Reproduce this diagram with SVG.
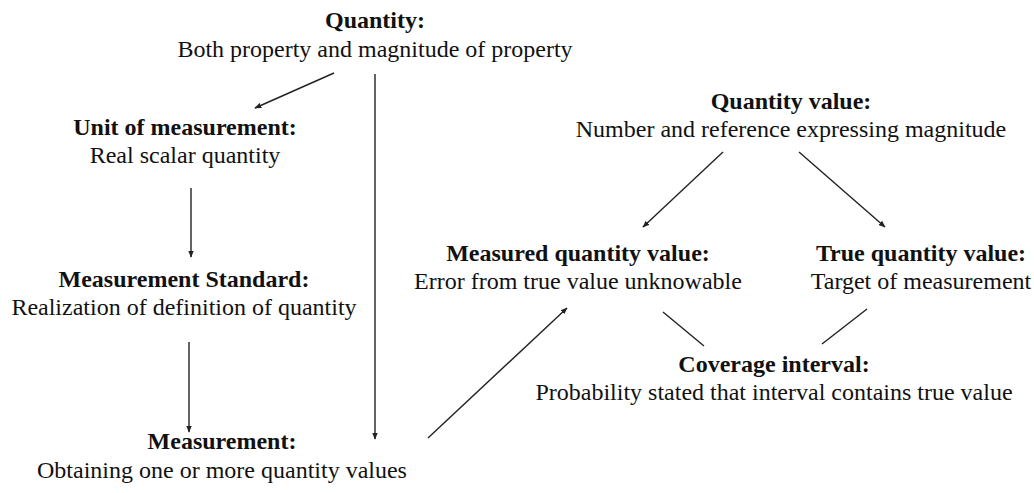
<svg xmlns="http://www.w3.org/2000/svg" width="1034" height="493" viewBox="0 0 1034 493">
  <style>
    text { font-family: "Liberation Serif", "DejaVu Serif", serif; font-size: 24px; fill: #111; text-anchor: middle; }
    .t { font-weight: bold; }
    .c { stroke: #222; stroke-width: 1.4; fill: none; }
  </style>
  <defs>
    <marker id="ah" viewBox="0 0 10 10" refX="9" refY="5" markerWidth="7" markerHeight="7" markerUnits="userSpaceOnUse" orient="auto">
      <path d="M0,1 L10,5 L0,9 Z" fill="#222"/>
    </marker>
  </defs>
  <rect width="1034" height="493" fill="#fff"/>

  <g id="quantity">
    <text class="t" x="375" y="28">Quantity:</text>
    <text x="375" y="57">Both property and magnitude of property</text>
  </g>
  <g id="unit">
    <text class="t" x="185" y="135">Unit of measurement:</text>
    <text x="185" y="163">Real scalar quantity</text>
  </g>
  <g id="standard">
    <text class="t" x="184" y="287">Measurement Standard:</text>
    <text x="184" y="315">Realization of definition of quantity</text>
  </g>
  <g id="measurement">
    <text class="t" x="222" y="449">Measurement:</text>
    <text x="222" y="478">Obtaining one or more quantity values</text>
  </g>
  <g id="quantity-value">
    <text class="t" x="791" y="109">Quantity value:</text>
    <text x="791" y="137">Number and reference expressing magnitude</text>
  </g>
  <g id="measured-value">
    <text class="t" x="578" y="261">Measured quantity value:</text>
    <text x="578" y="289">Error from true value unknowable</text>
  </g>
  <g id="true-value">
    <text class="t" x="921" y="261">True quantity value:</text>
    <text x="921" y="289">Target of measurement</text>
  </g>
  <g id="coverage">
    <text class="t" x="774" y="372">Coverage interval:</text>
    <text x="774" y="400">Probability stated that interval contains true value</text>
  </g>

  <g id="connectors">
    <line class="c" x1="334" y1="73" x2="255" y2="108" marker-end="url(#ah)"/>
    <line class="c" x1="375" y1="74" x2="375" y2="439" marker-end="url(#ah)"/>
    <line class="c" x1="191" y1="188" x2="191" y2="257" marker-end="url(#ah)"/>
    <line class="c" x1="189" y1="342" x2="189" y2="432" marker-end="url(#ah)"/>
    <line class="c" x1="428" y1="438" x2="567" y2="308" marker-end="url(#ah)"/>
    <line class="c" x1="723" y1="152" x2="643" y2="227" marker-end="url(#ah)"/>
    <line class="c" x1="799" y1="152" x2="885" y2="227" marker-end="url(#ah)"/>
    <line class="c" x1="663" y1="312" x2="704" y2="346"/>
    <line class="c" x1="867" y1="309" x2="822" y2="344"/>
  </g>
</svg>
